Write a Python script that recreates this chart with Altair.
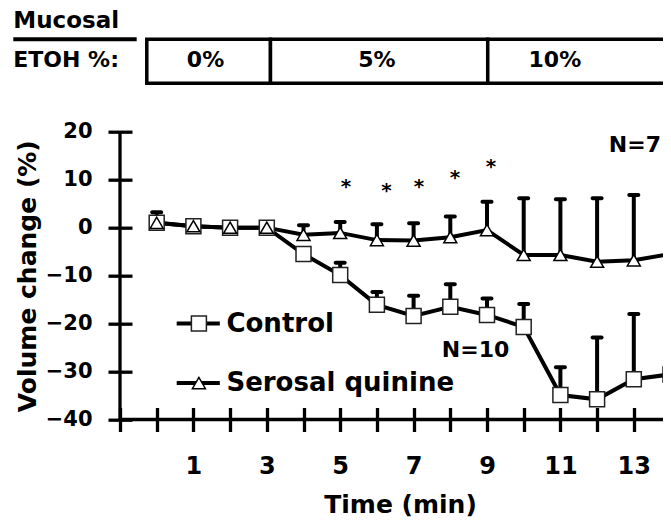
import altair as alt
import pandas as pd

# ---------------- data ----------------
time = list(range(15))
control = [1.0, 0.3, 0.0, 0.0, -5.5, -9.9, -16.1, -18.4, -16.5, -18.2, -20.7, -34.9, -35.8, -31.6, -30.6]
control_sem = [1.0, 0.8, 0.6, 0.6, 1.0, 2.6, 2.7, 4.2, 4.7, 3.4, 4.8, 5.8, 12.9, 13.6, 10.6]
quinine = [1.0, 0.3, 0.0, 0.0, -1.5, -1.1, -2.6, -2.7, -2.0, -0.5, -5.7, -5.7, -7.1, -6.8, -5.5]
quinine_sem = [2.2, 0.8, 0.6, 0.6, 2.0, 2.3, 3.3, 3.6, 4.3, 5.9, 11.8, 11.6, 13.2, 13.6, 13.5]

star_time = [5.16, 6.26, 7.15, 8.13, 9.11]
star_level = [9.4, 8.5, 9.4, 11.3, 13.7]

phase_start = [-0.27, 3.1, 9.02]
phase_end = [3.1, 9.02, 16.0]
phase_label = ["0%", "5%", "10%"]
phase_label_t = [1.33, 6.0, 10.85]

legend_names = ["Control", "Serosal quinine"]
legend_level = [-20.0, -32.4]

n_labels = ["N=10", "N=7"]
n_time = [7.77, 12.32]
n_level = [-26.9, 15.8]

x_ticks = list(range(-1, 14))
y_ticks = [-40, -30, -20, -10, 0, 10, 20]

FONT = "DejaVu Sans"
PX_PER_MIN = 36.7
W, H = 543, 287.8

xs = alt.Scale(domain=[-1, -1 + W / PX_PER_MIN], nice=False, zero=False)
ys = alt.Scale(domain=[-40, 20], nice=False, zero=False)

x_axis = alt.Axis(
    values=x_ticks,
    labelExpr="datum.value >= 1 && datum.value % 2 == 1 ? datum.label : ''",
    offset=-12, tickSize=24, tickWidth=3.3, tickColor="black",
    domain=False, grid=False,
    labelFont=FONT, labelFontSize=24, labelFontWeight="bold", labelColor="black",
    labelPadding=23, labelFlush=False, labelOverlap=False,
    title="Time (min)", titleFont=FONT, titleFontSize=25, titleFontWeight="bold",
    titleColor="black", titleX=280, titleY=85, titleBaseline="top", titleAlign="center",
)
y_axis = alt.Axis(
    values=y_ticks,
    offset=-12, tickSize=24, tickWidth=3.3, tickColor="black",
    domain=False, grid=False,
    labelFont=FONT, labelFontSize=21, labelFontWeight="bold", labelColor="black",
    labelPadding=16, labelOverlap=False,
    title="Volume change (%)", titleFont=FONT, titleFontSize=25, titleFontWeight="bold",
    titleColor="black", titleX=-92, titleY=144, titleAngle=270,
    titleBaseline="bottom", titleAlign="center",
)


def X(field):
    return alt.X(field, type="quantitative", scale=xs, axis=x_axis)


def Y(field):
    return alt.Y(field, type="quantitative", scale=ys, axis=y_axis)


rows = []
for t, v, s in zip(time, control, control_sem):
    rows.append({"time": t, "value": v, "top": v + s, "series": "Control"})
for t, v, s in zip(time, quinine, quinine_sem):
    rows.append({"time": t, "value": v, "top": v + s, "series": "Serosal quinine"})
df = pd.DataFrame(rows)
df_c = df[df.series == "Control"]
df_q = df[df.series == "Serosal quinine"]

lines = alt.Chart(df).mark_line(color="black", strokeWidth=4).encode(
    x=X("time"), y=Y("value"), detail="series:N",
)
stems = alt.Chart(df).mark_rule(color="black", strokeWidth=4).encode(
    x=X("time"), y=Y("value"), y2="top:Q"
)
caps = alt.Chart(df).mark_tick(
    orient="horizontal", size=13, thickness=4, color="black", opacity=1, cornerRadius=2
).encode(x=X("time"), y=Y("top"))

squares = alt.Chart(df_c).mark_point(
    shape="square", size=225, filled=True, fill="white", stroke="#222222",
    strokeWidth=1.5, opacity=1
).encode(x=X("time"), y=Y("value"))
triangles = alt.Chart(df_q).mark_point(
    shape="triangle-up", size=169, filled=True, fill="white", stroke="black",
    strokeWidth=1.5, opacity=1
).encode(x=X("time"), y=Y("value"))

axis_df = pd.DataFrame({"x0": [-1], "x1": [14], "y0": [-40], "y1": [20]})
xline = alt.Chart(axis_df).mark_rule(color="black", strokeWidth=3.3).encode(
    x=X("x0"), x2="x1:Q", y=Y("y0")
)
yline = alt.Chart(axis_df).mark_rule(color="black", strokeWidth=3.3).encode(
    x=X("x0"), y=Y("y0"), y2="y1:Q"
)

# header
phase_df = pd.DataFrame({"start": phase_start, "end": phase_end,
                         "label": phase_label, "lt": phase_label_t})
boxes = alt.Chart(phase_df).mark_rect(fill="white", stroke="black", strokeWidth=3.5).encode(
    x=X("start"), x2="end:Q", y=alt.value(-92.4), y2=alt.value(-48.4)
)
box_text = alt.Chart(phase_df).mark_text(
    font=FONT, fontSize=22, fontWeight="bold", color="black", align="center", baseline="alphabetic"
).encode(x=X("lt"), y=alt.value(-64.5), text="label:N")

head_style = dict(font=FONT, fontWeight="bold", color="black",
                  align="left", baseline="alphabetic")
muc_text = alt.Chart(pd.DataFrame({"txt": ["Mucosal"]})).mark_text(fontSize=23, **head_style).encode(
    x=alt.value(-106.7), y=alt.value(-103.4), text="txt:N"
)
etoh_text = alt.Chart(pd.DataFrame({"txt": ["ETOH %:"]})).mark_text(fontSize=22, **head_style).encode(
    x=alt.value(-106.7), y=alt.value(-65), text="txt:N"
)
underline = alt.Chart(pd.DataFrame({"a": [0]})).mark_rule(color="black", strokeWidth=4).encode(
    x=alt.value(-106.7), x2=alt.value(16.7), y=alt.value(-92.4)
)

# legend
leg_df = pd.DataFrame({"name": legend_names, "level": legend_level,
                       "l0": [0.545, 0.545], "l1": [1.72, 1.72],
                       "m": [1.15, 1.15], "tx": [1.9, 1.9]})
leg_lines = alt.Chart(leg_df).mark_rule(color="black", strokeWidth=4).encode(
    x=X("l0"), x2="l1:Q", y=Y("level")
)
leg_sq = alt.Chart(leg_df.iloc[[0]]).mark_point(
    shape="square", size=225, filled=True, fill="white", stroke="#222222",
    strokeWidth=1.5, opacity=1
).encode(x=X("m"), y=Y("level"))
leg_tri = alt.Chart(leg_df.iloc[[1]]).mark_point(
    shape="triangle-up", size=169, filled=True, fill="white", stroke="black",
    strokeWidth=1.5, opacity=1
).encode(x=X("m"), y=Y("level"))
leg_text = alt.Chart(leg_df).mark_text(
    font=FONT, fontSize=26, fontWeight="bold", color="black", align="left", baseline="middle"
).encode(x=X("tx"), y=Y("level"), text="name:N")

star_df = pd.DataFrame({"t": star_time, "v": star_level, "s": ["*"] * len(star_time)})
stars = alt.Chart(star_df).mark_text(
    font=FONT, fontSize=20, fontWeight="bold", color="black", align="center",
    baseline="middle", dy=4.6
).encode(x=X("t"), y=Y("v"), text="s:N")

n_df = pd.DataFrame({"t": n_time, "v": n_level, "s": n_labels})
ntext = alt.Chart(n_df).mark_text(
    font=FONT, fontSize=22, fontWeight="bold", color="black", align="left", baseline="alphabetic"
).encode(x=X("t"), y=Y("v"), text="s:N")

chart = alt.layer(
    boxes, box_text, muc_text, etoh_text, underline,
    lines, stems, caps, xline, yline, squares, triangles,
    leg_lines, leg_sq, leg_tri, leg_text, stars, ntext,
).properties(
    width=W, height=H,
    autosize=alt.AutoSizeParams(type="none"),
    padding={"left": 112, "top": 123.7, "right": 0, "bottom": 100},
).configure_view(strokeWidth=0)

chart.save("out.html", embed_options={"renderer": "svg", "actions": False})
